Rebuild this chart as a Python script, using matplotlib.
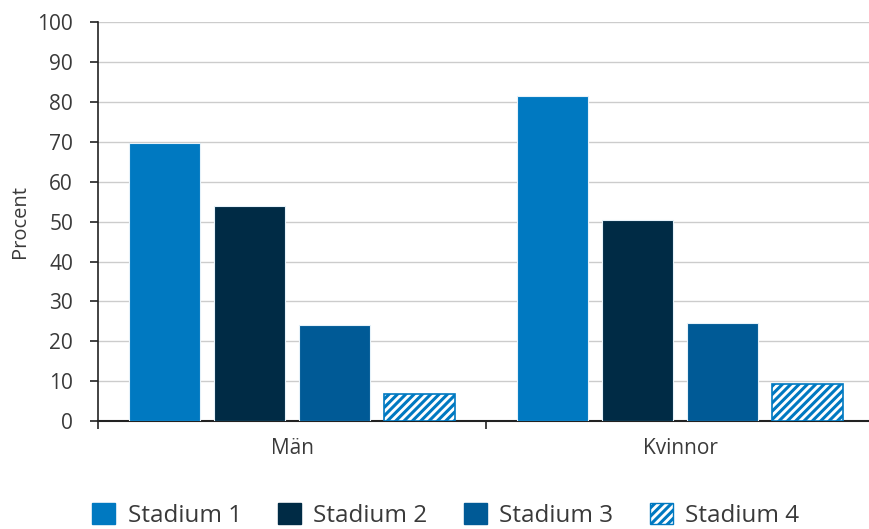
import numpy as np
import matplotlib.pyplot as plt
from matplotlib.patches import Patch

plt.rcParams['font.family'] = ['Open Sans', 'DejaVu Sans']
plt.rcParams['hatch.linewidth'] = 2.2

# --- data ---
groups = ['Män', 'Kvinnor']
stages = ['Stadium 1', 'Stadium 2', 'Stadium 3', 'Stadium 4']
stadium_1 = [69.7, 81.5]
stadium_2 = [53.9, 50.5]
stadium_3 = [24.0, 24.7]
stadium_4 = [6.7, 9.4]

colors = ['#0079c1', '#002b45', '#005a96', '#0079c1']
hatches = [None, None, None, '////']

fig = plt.figure(figsize=(8.69, 5.29), dpi=100)
# the plot area runs a little past the right edge of the figure
ax = fig.add_axes([0.1128, 0.204, 0.893, 0.754])

x = np.arange(len(groups))
width = 0.183
step = 0.219
offsets = (np.arange(4) - 1.5) * step

for i, vals in enumerate([stadium_1, stadium_2, stadium_3, stadium_4]):
    if hatches[i]:
        ax.bar(x + offsets[i], vals, width, facecolor='white', edgecolor=colors[i],
               hatch=hatches[i], linewidth=1.2, zorder=3)
    else:
        ax.bar(x + offsets[i], vals, width, color=colors[i],
               edgecolor='#e6f2fa', linewidth=0.8, zorder=3)

ax.set_xlim(-0.5, 1.5)
ax.set_ylim(0, 100)
ax.set_yticks(np.arange(0, 101, 10))
ax.yaxis.grid(True, color='#cccccc', linewidth=1.0)
ax.set_axisbelow(True)

# group boundaries as ticks, group names as minor labels
ax.set_xticks([-0.5, 0.5, 1.5])
ax.set_xticklabels([])
ax.set_xticks(x, minor=True)
ax.set_xticklabels(groups, minor=True)
ax.tick_params(axis='x', which='major', length=6, width=1.2, color='#222222')
ax.tick_params(axis='x', which='minor', length=0, pad=12, labelsize=15, labelcolor='#3a3a3a')
ax.tick_params(axis='y', length=6, width=1.2, color='#222222', labelsize=15,
               labelcolor='#3a3a3a', pad=12)

for s in ['top', 'right']:
    ax.spines[s].set_visible(False)
ax.spines['left'].set_color('#222222')
ax.spines['bottom'].set_color('#222222')
ax.spines['left'].set_linewidth(1.2)
ax.spines['bottom'].set_linewidth(1.5)

ax.set_ylabel('Procent', fontsize=14.5, color='#3a3a3a', labelpad=5)

handles = []
for i in range(4):
    if hatches[i]:
        handles.append(Patch(facecolor='white', edgecolor=colors[i], hatch='////', label=stages[i]))
    else:
        handles.append(Patch(facecolor=colors[i], edgecolor=colors[i], label=stages[i]))
fig.legend(handles=handles, loc='lower left', bbox_to_anchor=(0.081, -0.04), ncol=4,
           frameon=False, fontsize=17.5, handlelength=0.95, handleheight=0.95,
           handletextpad=0.5, columnspacing=1.5, labelcolor='#3a3a3a')

fig.savefig('out.png', dpi=100)
